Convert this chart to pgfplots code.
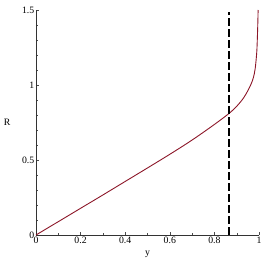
\documentclass[border=0pt]{standalone}
\usepackage{fontspec}
\setmainfont{Liberation Serif}
\usepackage{pgfplots}
\pgfplotsset{compat=1.18}
\definecolor{curve}{RGB}{140,22,40}
\begin{document}
\begin{tikzpicture}
\begin{axis}[
  scale only axis,
  width=223bp, height=225bp,
  xmin=0, xmax=1, ymin=0, ymax=1.5,
  axis x line=bottom, axis y line=left,
  axis line style={-, line width=0.8pt, black!80},
  xtick={0,0.2,0.4,0.6,0.8,1},
  xticklabels={0,0.2,0.4,0.6,0.8,1},
  ytick={0,0.5,1,1.5},
  yticklabels={0,0.5,1,1.5},
  minor x tick num=1,
  minor y tick num=4,
  tick align=inside,
  major tick length=3bp, minor tick length=2bp,
  tick style={black!70, line width=0.4pt},
  tick label style={font=\fontsize{9.8}{11}\selectfont},
  every tick label/.append style={inner sep=1.5pt},
  xlabel={y}, ylabel={R},
  label style={font=\fontsize{9.8}{11}\selectfont},
  x label style={at={(axis description cs:0.5,0)}, anchor=north, yshift=-12bp},
  y label style={at={(axis description cs:0,0.5)}, rotate=-90, anchor=east, xshift=-22bp},
  clip=false,
]
\addplot[curve, line width=0.9pt, smooth] coordinates {
(0,0) (0.1,0.089) (0.2,0.178) (0.3,0.267) (0.4,0.357) (0.5,0.447) (0.6,0.538)
(0.7,0.633) (0.8,0.737) (0.866,0.811) (0.9,0.858) (0.93,0.912)
(0.95,0.962) (0.965,1.008) (0.975,1.05) (0.983,1.11) (0.99,1.22) (0.993,1.33)
(0.995,1.43) (0.996,1.5)
};
\addplot[black, line width=1.3pt, dash pattern=on 7.5bp off 3.5bp] coordinates {(0.866,0) (0.866,1.485)};
\end{axis}
\path (current axis.south west) ++(-36bp,-31bp) coordinate (bl);
\path (current axis.north east) ++(7bp,10bp) coordinate (tr);
\pgfresetboundingbox
\path[use as bounding box] (bl) rectangle (tr);
\end{tikzpicture}
\end{document}
